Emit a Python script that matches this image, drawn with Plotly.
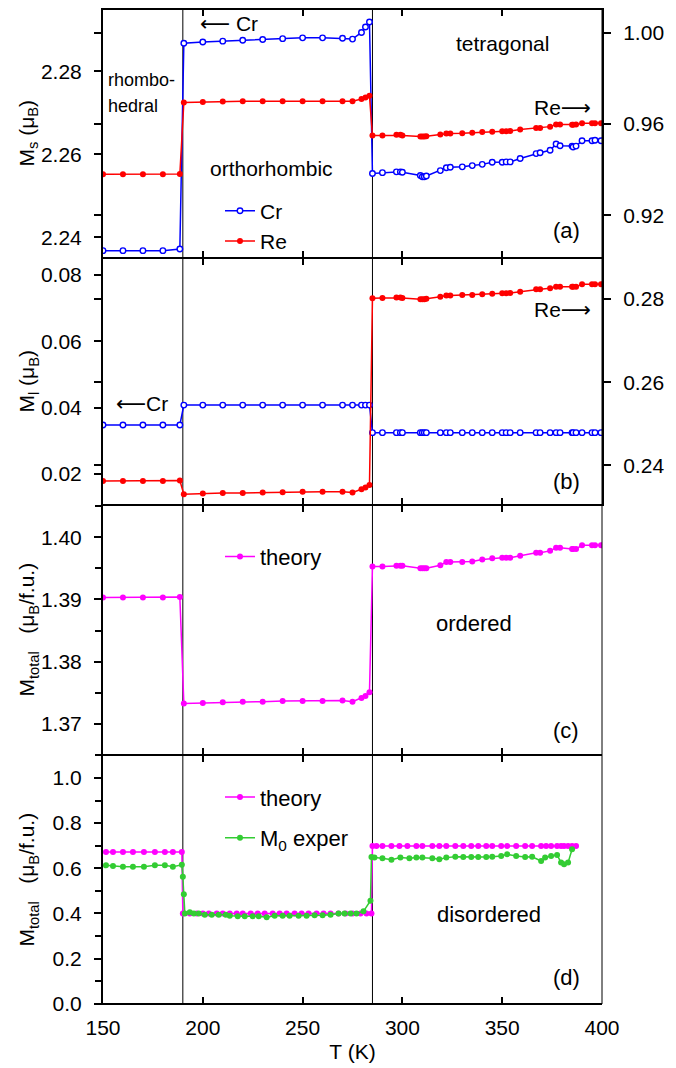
import plotly.graph_objects as go

# ---------------- data ----------------
# temperature grids (K) for panels (a)-(c)
T_rh = [150, 160, 170, 180, 188.5]
T_or = [190.5, 200, 210, 220, 230, 240, 250, 260, 270, 275, 279.5, 281.5, 283.5]
T_tet = [285, 290, 297, 299, 300, 309, 310, 311, 312, 319, 322, 324, 330, 335, 340,
         345, 350, 352, 354, 359, 367, 369, 374, 377, 379, 385, 385.5, 387, 390,
         395, 396.5, 399.5]
T_abc = T_rh + T_or + T_tet

# (a) spin moments
Ms_Cr = ([2.2368, 2.2368, 2.2368, 2.2368, 2.2372] +
         [2.2868, 2.2871, 2.2873, 2.2875, 2.2877, 2.2879, 2.2881, 2.2881, 2.2880,
          2.2878, 2.2894, 2.2907, 2.2919] +
         [2.2554, 2.2556, 2.2558, 2.2558, 2.2557, 2.2549, 2.2546, 2.2546, 2.2548,
          2.2561, 2.2568, 2.2569, 2.2570, 2.2573, 2.2576, 2.2581, 2.2581, 2.2582,
          2.2582, 2.2590, 2.2602, 2.2604, 2.2610, 2.2625, 2.2621, 2.2620, 2.2618,
          2.2620, 2.2633, 2.2633, 2.2634, 2.2633])
Ms_Re = ([0.9379, 0.9379, 0.9379, 0.9379, 0.9380] +
         [0.9694, 0.9696, 0.9698, 0.9699, 0.9699, 0.9699, 0.9699, 0.9699, 0.9699,
          0.9699, 0.9709, 0.9716, 0.9723] +
         [0.9549, 0.9549, 0.9552, 0.9552, 0.9549, 0.9545, 0.9545, 0.9545, 0.9546,
          0.9553, 0.9558, 0.9558, 0.9559, 0.9561, 0.9564, 0.9566, 0.9568, 0.9568,
          0.9569, 0.9575, 0.9582, 0.9582, 0.9588, 0.9597, 0.9597, 0.9596, 0.9596,
          0.9597, 0.9603, 0.9603, 0.9603, 0.9603])

# (b) orbital moments
Ml_Cr = ([0.0348] * 5 + [0.0408] * 13 + [0.0325] * 32)
Ml_Re = ([0.2362, 0.2362, 0.2362, 0.2362, 0.2363] +
         [0.2330, 0.2332, 0.2333, 0.2333, 0.2334, 0.2335, 0.2336, 0.2336, 0.2336,
          0.2334, 0.2342, 0.2346, 0.2352] +
         [0.2802, 0.2803, 0.2804, 0.2804, 0.2803, 0.2800, 0.2800, 0.2800, 0.2801,
          0.2806, 0.2809, 0.2809, 0.2810, 0.2810, 0.2812, 0.2813, 0.2814, 0.2814,
          0.2815, 0.2818, 0.2824, 0.2824, 0.2826, 0.2830, 0.2830, 0.2830, 0.2830,
          0.2830, 0.2836, 0.2836, 0.2836, 0.2836])

# (c) total moment, ordered
Mtot_ord = ([1.3903, 1.3903, 1.3903, 1.3903, 1.3904] +
            [1.3733, 1.3734, 1.3735, 1.3736, 1.3736, 1.3737, 1.3737, 1.3737, 1.3738,
             1.3736, 1.3742, 1.3745, 1.3751] +
            [1.3953, 1.3953, 1.3954, 1.3954, 1.3954, 1.3950, 1.3950, 1.3950, 1.3950,
             1.3955, 1.3960, 1.3960, 1.3960, 1.3961, 1.3964, 1.3966, 1.3967, 1.3967,
             1.3967, 1.3970, 1.3975, 1.3975, 1.3978, 1.3983, 1.3983, 1.3981, 1.3981,
             1.3981, 1.3987, 1.3987, 1.3987, 1.3987])

# (d) total moment, disordered: theory
T_d_theory = [151.5, 155, 160, 165, 170.5, 176, 181, 185, 189.5,
              190, 193.5, 197, 200, 203, 207, 210, 213.5, 217, 220, 224, 227.5, 231,
              235, 238.5, 242, 246, 249.5, 253, 257, 260.5, 264, 268, 271.5, 275,
              279, 282, 284.5,
              285, 287, 290, 294.5, 298.5, 302.5, 307, 310, 315, 318.5, 322, 326.5,
              330.5, 334.5, 338, 342, 345, 349.5, 352.5, 357, 361.5, 365, 369.5, 372,
              374.5, 377.5, 379.5, 381, 383, 385, 387]
M_d_theory = ([0.672] * 9 + [0.400] * 28 + [0.699] * 31)

# (d) experiment
T_d_exp = [151.5, 155, 160, 165, 170.5, 176, 181, 185, 189.5, 190, 190.5,
           191, 193.5, 195.5, 198, 201, 204.5, 208, 211.5, 213.5, 217.5, 221, 225,
           228, 232, 236, 240, 243.5, 248, 252, 256, 260, 264, 268, 271, 274,
           277, 280.5, 284,
           284.5, 286, 290, 294.5, 299, 303.5, 307, 310, 315, 318.5, 322, 326.5,
           330.5, 334.5, 338, 342, 345, 349.5, 352.5, 357, 361.5, 365, 369.5,
           371.5, 374.5, 377.5, 379.5, 381, 383, 385, 387]
M_d_exp = [0.613, 0.610, 0.607, 0.607, 0.607, 0.613, 0.613, 0.607, 0.615, 0.562, 0.485,
           0.400, 0.405, 0.400, 0.400, 0.394, 0.394, 0.394, 0.394, 0.390, 0.387,
           0.387, 0.387, 0.387, 0.383, 0.390, 0.390, 0.390, 0.390, 0.390, 0.392,
           0.392, 0.394, 0.400, 0.400, 0.400, 0.400, 0.409, 0.456,
           0.650, 0.647, 0.644, 0.638, 0.647, 0.644, 0.647, 0.647, 0.644,
           0.640, 0.647, 0.651, 0.650, 0.650, 0.650, 0.650, 0.651, 0.654,
           0.662, 0.654, 0.650, 0.651, 0.632, 0.647, 0.654, 0.659, 0.625,
           0.618, 0.625, 0.684]

# phase boundaries (K)
T_trans = [190, 285]

# ---------------- styling helpers ----------------
W, H = 676, 1068
L, R, TOP, BOT = 103, 602, 8, 1007
FONT = "Liberation Sans, Arial, Helvetica, sans-serif"
FS = 21
FS2 = 22

def PX(px):
    return (px - L) / (R - L)

def PY(py):
    return (BOT - py) / (BOT - TOP)

dom_a = [PY(258), 1.0]
dom_b = [PY(506), PY(258)]
dom_c = [PY(757), PY(506)]
dom_d = [0.0, PY(757)]

rng_aL = [2.23503, 2.29505]
rng_aR = [0.90124, 1.01034]
rng_bL = [0.0107, 0.0851]
rng_bR = [0.2304, 0.28991]
rng_c = [1.36504, 1.40516]
rng_d = [-0.0013, 1.1015]

def conv(v, src, dst):
    return dst[0] + (v - src[0]) / (src[1] - src[0]) * (dst[1] - dst[0])

BLUE, RED, MAG, GRN = "#0000ff", "#ff0000", "#ff00ff", "#33cc33"

fig = go.Figure()

def add(x, y, xa, ya, color, name, open_=False, legend=None, show=False, group=None):
    fig.add_trace(go.Scatter(
        x=x, y=y, xaxis=xa, yaxis=ya, mode="lines+markers", name=name,
        line=dict(color=color, width=1.5),
        marker=dict(color="white" if open_ else color, size=5.5 if open_ else 6,
                    symbol="circle",
                    line=dict(color=color, width=1.4 if open_ else 0)),
        showlegend=show, legend=legend, legendgroup=group))

add(T_abc, Ms_Cr, "x", "y", BLUE, "Cr", open_=True, legend="legend", show=True)
add(T_abc, Ms_Re, "x", "y2", RED, "Re", legend="legend", show=True)
add(T_abc, Ml_Cr, "x2", "y3", BLUE, "Cr", open_=True)
add(T_abc, Ml_Re, "x2", "y4", RED, "Re")
add(T_abc, Mtot_ord, "x3", "y5", MAG, "theory", legend="legend2", show=True)
add(T_d_theory, M_d_theory, "x4", "y6", MAG, "theory", legend="legend3", show=True, group="g1")
add(T_d_exp, M_d_exp, "x4", "y6", GRN, "M<sub>0</sub> exper", legend="legend3", show=True, group="g2")

tickfont = dict(family=FONT, size=FS, color="black")

def xax(anchor, labels=False):
    return dict(domain=[0, 1], anchor=anchor, range=[150, 400],
                tickvals=[150, 200, 250, 300, 350, 400],
                ticktext=["150", "200", "250", "300", "350", "400"],
                showticklabels=labels, ticks="inside", ticklen=7, tickwidth=1.5,
                tickcolor="black", showline=True, linewidth=1, linecolor="black",
                mirror="ticks", showgrid=False, zeroline=False, tickfont=tickfont,
                ticklabelstandoff=5)

def ybase(domain, rng, vals, texts, side="left", anchor="x", minor=None):
    d = dict(domain=domain, range=rng, anchor=anchor, side=side,
             tickvals=vals, ticktext=texts, ticks="outside", ticklen=7,
             tickwidth=1.5, tickcolor="black", showline=True, linewidth=2,
             linecolor="black", showgrid=False, zeroline=False,
             tickfont=tickfont, ticklabelstandoff=8)
    if minor:
        d["minor"] = minor
    return d

def yin(over, rng, vals, side="left", anchor="x"):
    return dict(overlaying=over, range=rng, anchor=anchor, side=side,
                tickvals=vals, ticktext=[""] * len(vals), ticks="inside", ticklen=7,
                tickwidth=1.5, tickcolor="black", showline=False, showgrid=False,
                zeroline=False, showticklabels=False)

# panel (a) ticks
aL_vals = [2.24, 2.26, 2.28]
aR_vals = [0.92, 0.96, 1.00]
aL_all = aL_vals + [conv(v, rng_aR, rng_aL) for v in aR_vals]
aL_txt = ["2.24", "2.26", "2.28"] + [""] * 3
# panel (b) ticks
bL_vals = [0.02, 0.04, 0.06, 0.08]
bR_vals = [0.24, 0.26, 0.28]
bL_all = bL_vals + [conv(v, rng_bR, rng_bL) for v in bR_vals]
bL_txt = ["0.02", "0.04", "0.06", "0.08"] + [""] * 3
# panel (c)/(d)
c_vals = [1.37, 1.38, 1.39, 1.40]
d_vals = [0.0, 0.2, 0.4, 0.6, 0.8, 1.0]
minor_c = dict(tick0=1.365, dtick=0.005, ticks="outside", ticklen=6, tickwidth=1.5, tickcolor="black")
minor_d = dict(tick0=0.1, dtick=0.1, ticks="outside", ticklen=6, tickwidth=1.5, tickcolor="black")

leg = dict(xanchor="left", yanchor="middle", bgcolor="rgba(0,0,0,0)", borderwidth=0)

fig.update_layout(
    width=W, height=H,
    margin=dict(l=L, r=W - R, t=TOP, b=H - BOT, pad=0),
    paper_bgcolor="white", plot_bgcolor="white",
    font=dict(family=FONT, size=FS, color="black"),
    xaxis=xax("y"),
    xaxis2=xax("y3"),
    xaxis3=xax("y5"),
    xaxis4=dict(xax("y6", labels=True),
                title=dict(text="T (K)", font=dict(family=FONT, size=FS), standoff=6)),
    yaxis=ybase(dom_a, rng_aL, aL_all, aL_txt),
    yaxis2=dict(ybase(dom_a, rng_aR, aR_vals, ["0.92", "0.96", "1.00"], side="right"),
                overlaying="y"),
    yaxis3=ybase(dom_b, rng_bL, bL_all, bL_txt, anchor="x2"),
    yaxis4=dict(ybase(dom_b, rng_bR, bR_vals, ["0.24", "0.26", "0.28"], side="right", anchor="x2"),
                overlaying="y3"),
    yaxis5=ybase(dom_c, rng_c, c_vals, ["1.37", "1.38", "1.39", "1.40"], anchor="x3", minor=minor_c),
    yaxis6=ybase(dom_d, rng_d, d_vals, ["0.0", "0.2", "0.4", "0.6", "0.8", "1.0"], anchor="x4", minor=minor_d),
    yaxis7=yin("y", rng_aL, aL_all),
    yaxis8=yin("y", rng_aR, aR_vals, side="right"),
    yaxis9=yin("y3", rng_bL, bL_all, anchor="x2"),
    yaxis10=yin("y3", rng_bR, bR_vals, side="right", anchor="x2"),
    yaxis11=yin("y5", rng_c, c_vals, anchor="x3"),
    yaxis12=yin("y6", rng_d, d_vals, anchor="x4"),
    legend=dict(leg, x=PX(220), y=PY(226), font=dict(family=FONT, size=FS), tracegroupgap=0),
    legend2=dict(leg, x=PX(220), y=PY(558), font=dict(family=FONT, size=FS2)),
    legend3=dict(leg, x=PX(220), y=PY(820), font=dict(family=FONT, size=FS2), tracegroupgap=9),
    showlegend=True,
)

# phase-boundary lines, right border, outer top/bottom frame
shapes = []
for t in T_trans:
    shapes.append(dict(type="line", xref="x", yref="paper", x0=t, x1=t, y0=0, y1=1,
                       line=dict(color="black", width=1), layer="below"))
shapes.append(dict(type="line", xref="paper", yref="paper", x0=1, x1=1, y0=0, y1=1,
                   line=dict(color="black", width=1)))
for yy in (0, 1):
    shapes.append(dict(type="line", xref="paper", yref="paper", x0=0, x1=1, y0=yy, y1=yy,
                       line=dict(color="black", width=2)))
fig.update_layout(shapes=shapes)

ARL = '<span style="font-family:DejaVu Sans">\u27f5</span>'
ARR = '<span style="font-family:DejaVu Sans">\u27f6</span>'

def ann(text, px, py, xanchor="center", align="center", angle=0, size=FS):
    fig.add_annotation(text=text, xref="paper", yref="paper", x=PX(px), y=PY(py),
                       xanchor=xanchor, yanchor="middle", showarrow=False,
                       align=align, textangle=angle,
                       font=dict(family=FONT, size=size, color="black"))

# axis titles
ann("M<sub>s</sub> (μ<sub>B</sub>)", 28, 133, angle=-90)
ann("M<sub>l</sub> (μ<sub>B</sub>)", 28, 382, angle=-90)
ann("M<sub>total</sub>\u00a0\u00a0\u00a0(μ<sub>B</sub>/f.u.)", 28, 631, angle=-90)
ann("M<sub>total</sub>\u00a0\u00a0\u00a0(μ<sub>B</sub>/f.u.)", 28, 882, angle=-90)

# panel (a)
ann(ARL + ' Cr', 198, 23, xanchor="left")
ann("rhombo-", 106, 79, xanchor="left", size=18)
ann("hedral", 106, 105, xanchor="left", size=18)
ann("orthorhombic", 271, 168)
ann("tetragonal", 502, 43)
ann('Re' + ARR, 593, 107, xanchor="right")
ann("(a)", 566, 230, size=FS2)
# panel (b)
ann(ARL + 'Cr', 114, 405, xanchor="left")
ann('Re' + ARR, 593, 310, xanchor="right")
ann("(b)", 566, 482, size=FS2)
# panel (c)
ann("ordered", 474, 625, size=FS2)
ann("(c)", 566, 732, size=FS2)
# panel (d)
ann("disordered", 489, 917, size=FS2)
ann("(d)", 566, 980, size=FS2)

fig.write_html("out.html")
